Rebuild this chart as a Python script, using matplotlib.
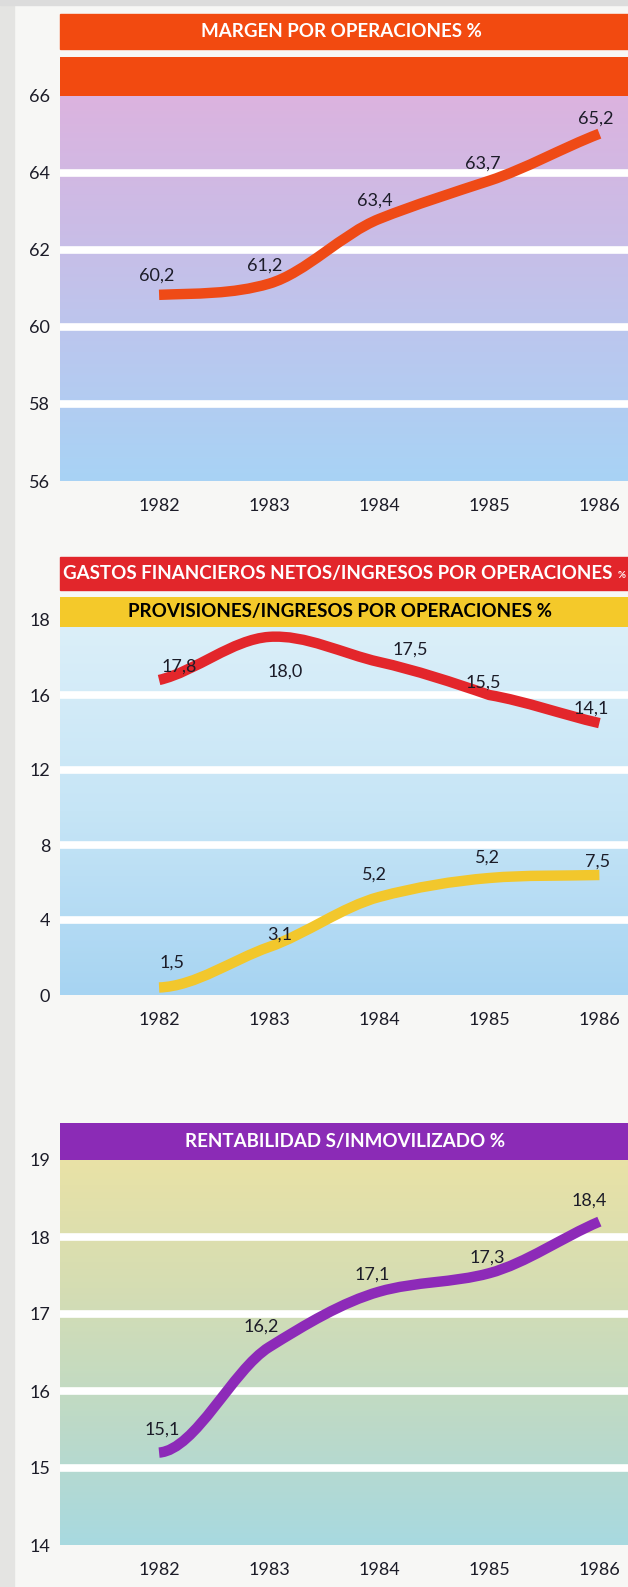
import numpy as np
import matplotlib
matplotlib.use("Agg")
import matplotlib.pyplot as plt
from matplotlib.path import Path
from matplotlib.patches import PathPatch, Rectangle
from matplotlib.colors import LinearSegmentedColormap

# ---------------- data ----------------
years = [1982, 1983, 1984, 1985, 1986]
year_labels = ["1982", "1983", "1984", "1985", "1986"]

# Panel 1: margen por operaciones (line as drawn, printed labels)
margen_line = [60.83, 61.12, 62.8, 63.79, 65.01]
margen_labels = ["60,2", "61,2", "63,4", "63,7", "65,2"]
margen_ticks = [56, 58, 60, 62, 64, 66]

# Panel 2: gastos financieros netos / provisiones
gastos_line = [16.4, 17.55, 16.88, 16.0, 14.5]
gastos_labels = ["17,8", "18,0", "17,5", "15,5", "14,1"]
prov_line = [0.4, 2.56, 5.23, 6.24, 6.4]
prov_labels = ["1,5", "3,1", "5,2", "5,2", "7,5"]
p2_ticks = [0, 4, 8, 12, 16, 18]

# Panel 3: rentabilidad s/inmovilizado
rent_line = [15.2, 16.57, 17.29, 17.53, 18.2]
rent_labels = ["15,1", "16,2", "17,1", "17,3", "18,4"]
rent_ticks = [14, 15, 16, 17, 18, 19]

# ---------------- style ----------------
W, H = 628, 1587
FONT = ["Lato", "DejaVu Sans"]
TXT = "#1c1c28"
margen_off = [(-2, 19), (-4, 18), (-4, 18), (-6, 17), (-4, 15)]
gastos_off = [(20, 13), (16, -35), (31, 12), (-6, 12), (-8, 15)]
prov_off = [(13, 25), (11, 12), (-5, 22), (-2, 20), (-2, 13)]
rent_off = [(3, 23), (-8, 20), (-7, 17), (-2, 16), (-10, 21)]
start_k = {"margen": 0.4, "gastos": 0.6, "prov": 0.1, "rent": 0.08}

plt.rcParams["font.family"] = FONT

fig = plt.figure(figsize=(W / 100, H / 100), dpi=100, facecolor="#f7f7f5")


def fx(x):
    return x / W


def fy(y):
    return 1 - y / H


def make_ax(top, bottom, left=60, right=628):
    ax = fig.add_axes([fx(left), fy(bottom), fx(right - left), (bottom - top) / H])
    for s in ax.spines.values():
        s.set_visible(False)
    return ax


def smooth_path(x, y, k=0.85, k0=0.4):
    x = np.asarray(x, float)
    y = np.asarray(y, float)
    n = len(x)
    m = np.zeros(n)
    for i in range(1, n - 1):
        m[i] = k * (y[i + 1] - y[i - 1]) / (x[i + 1] - x[i - 1])
    m[0] = k0 * (y[1] - y[0]) / (x[1] - x[0])
    m[-1] = 0.9 * (y[-1] - y[-2]) / (x[-1] - x[-2])
    verts = [(x[0], y[0])]
    codes = [Path.MOVETO]
    for i in range(n - 1):
        h = (x[i + 1] - x[i]) / 3
        verts += [(x[i] + h, y[i] + m[i] * h),
                  (x[i + 1] - h, y[i + 1] - m[i + 1] * h),
                  (x[i + 1], y[i + 1])]
        codes += [Path.CURVE4] * 3
    return Path(verts, codes)


def gradient(ax, colors, frac):
    cm = LinearSegmentedColormap.from_list("g", colors)
    g = np.linspace(0, 1, 256).reshape(-1, 1)  # row 0 (top) -> first colour
    ax.imshow(g, extent=(0, 1, 0, frac), transform=ax.transAxes, aspect="auto",
              cmap=cm, zorder=0, interpolation="bicubic", origin="upper")


def draw_line(ax, vals, color, k0):
    p = smooth_path(years, vals, k0=k0)
    ax.add_patch(PathPatch(p, fill=False, lw=7.5, ec=color, capstyle="butt",
                           joinstyle="round", zorder=3))


def labels(ax, vals, texts, offs):
    for x, v, t, o in zip(years, vals, texts, offs):
        ax.annotate(t, (x, v), xytext=o, textcoords="offset pixels", ha="center",
                    va="center", fontsize=13, color=TXT, zorder=4)


def common(ax, ticks, ticklabels):
    ax.set_xlim(1981.1, 1986.26)
    ax.set_xticks(years)
    ax.set_xticklabels(year_labels)
    ax.set_yticks(ticks)
    ax.set_yticklabels(ticklabels)
    ax.tick_params(axis="y", length=0, pad=7, labelsize=13, labelcolor=TXT)
    ax.tick_params(axis="x", length=0, pad=12, labelsize=13, labelcolor=TXT)


# page scan edge
fig.add_artist(Rectangle((0, 0), fx(14), 1, transform=fig.transFigure,
                         color="#e4e4e2", zorder=0))
fig.add_artist(Rectangle((0, fy(5)), 1, 5 / H, transform=fig.transFigure,
                         color="#dcdcdc", zorder=0))

# ---------------- Panel 1 ----------------
ORANGE = "#f24a10"
fig.add_artist(Rectangle((fx(60), fy(49)), fx(568), 35 / H, transform=fig.transFigure,
                         color=ORANGE, zorder=1))
fig.text(fx(341), fy(31.5), "MARGEN POR OPERACIONES %", color="white", fontsize=13.5,
         fontweight="bold", ha="center", va="center")

ax1 = make_ax(57, 481)
gradient(ax1, ["#dcb3df", "#cbbce6", "#b9c8ef", "#a8d3f5"], 10 / 11)
ax1.axhspan(66, 67, color=ORANGE, zorder=1, lw=0)
for v in [58, 60, 62, 64]:
    ax1.axhline(v, color="white", lw=5.5, zorder=1)
ax1.set_ylim(56, 67)
common(ax1, margen_ticks, [str(t) for t in margen_ticks])
draw_line(ax1, margen_line, "#ef4a16", start_k["margen"])
labels(ax1, margen_line, margen_labels, margen_off)

# ---------------- Panel 2 ----------------
RED = "#e2262b"
YELLOW = "#f4c92a"
fig.add_artist(Rectangle((fx(60), fy(590)), fx(568), 33 / H, transform=fig.transFigure,
                         color=RED, zorder=1))
fig.text(fx(338), fy(573.5), "GASTOS FINANCIEROS NETOS/INGRESOS POR OPERACIONES",
         color="white", fontsize=13.5, fontweight="bold", ha="center", va="center")
fig.text(fx(622), fy(575), "%", color="white", fontsize=7, fontweight="bold",
         ha="center", va="center")

scale_vals = [0, 4, 8, 12, 16, 18, 20]
scale_idx = [0, 1, 2, 3, 4, 5, 6]


def fwd(v):
    return np.interp(v, scale_vals, scale_idx)


def inv(i):
    return np.interp(i, scale_idx, scale_vals)


ax2 = make_ax(597, 995)
top_idx = (995 - 597) / 75.0
bar_idx = (995 - 627) / 75.0
gradient(ax2, ["#dbeff9", "#c6e5f6", "#a7d4f2"], bar_idx / top_idx)
ax2.set_yscale("function", functions=(fwd, inv))
ax2.axhspan(inv(bar_idx), inv(top_idx), color=YELLOW, zorder=1, lw=0)
for v in [4, 8, 12, 16]:
    ax2.axhline(v, color="white", lw=5.5, zorder=1)
ax2.set_ylim(0, inv(top_idx))
common(ax2, p2_ticks, [str(t) for t in p2_ticks])
ax2.yaxis.set_minor_locator(matplotlib.ticker.NullLocator())
draw_line(ax2, gastos_line, "#e3262b", start_k["gastos"])
draw_line(ax2, prov_line, "#f2c72c", start_k["prov"])
labels(ax2, gastos_line, gastos_labels, gastos_off)
labels(ax2, prov_line, prov_labels, prov_off)
fig.text(fx(340), fy(611), "PROVISIONES/INGRESOS POR OPERACIONES %", color="black",
         fontsize=13.5, fontweight="bold", ha="center", va="center", zorder=5)

# ---------------- Panel 3 ----------------
PURPLE = "#8b2bb6"
ax3 = make_ax(1123, 1545)
top3 = 19 + (1160 - 1123) / 77.0
gradient(ax3, ["#e9e2a6", "#d5ddb3", "#bedac6", "#a8d9e0"], 5 / (top3 - 14))
ax3.axhspan(19, top3, color=PURPLE, zorder=1, lw=0)
for v in [15, 16, 17, 18]:
    ax3.axhline(v, color="white", lw=5.5, zorder=1)
ax3.set_ylim(14, top3)
common(ax3, rent_ticks, [str(t) for t in rent_ticks])
draw_line(ax3, rent_line, "#8d2ab8", start_k["rent"])
labels(ax3, rent_line, rent_labels, rent_off)
fig.text(fx(345), fy(1141), "RENTABILIDAD S/INMOVILIZADO %", color="white",
         fontsize=13.5, fontweight="bold", ha="center", va="center", zorder=5)

fig.savefig("out.png", dpi=100, facecolor=fig.get_facecolor())
